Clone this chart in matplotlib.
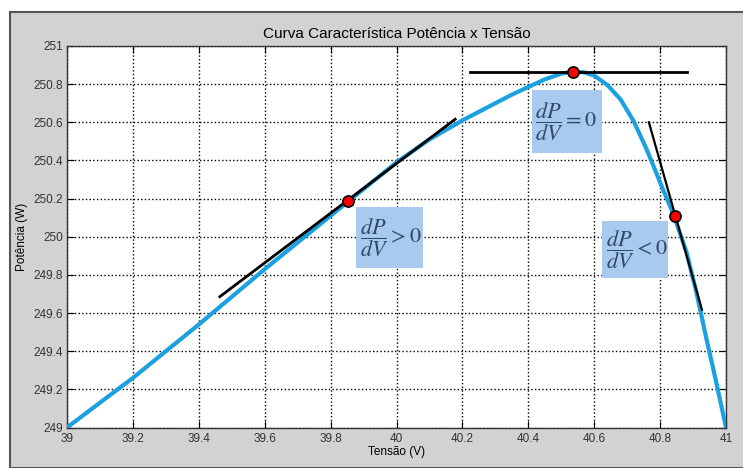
import matplotlib
matplotlib.use('Agg')
import matplotlib.pyplot as plt
from matplotlib.patches import Rectangle

# curve
tensao = [39.0, 39.2, 39.4, 39.6, 39.8, 39.9, 40.0, 40.05, 40.1, 40.15, 40.2,
          40.25, 40.3, 40.35, 40.4, 40.45, 40.5, 40.535, 40.57, 40.6, 40.64,
          40.68, 40.72, 40.76, 40.8, 40.84, 40.88, 40.91, 40.94, 40.97, 41.0]
potencia = [249.0, 249.26, 249.54, 249.83, 250.11, 250.25, 250.39, 250.45, 250.51,
            250.56, 250.61, 250.655, 250.70, 250.745, 250.785, 250.825, 250.855,
            250.866, 250.862, 250.845, 250.795, 250.72, 250.605, 250.455, 250.285,
            250.12, 249.92, 249.71, 249.47, 249.24, 249.0]

# tangent segments
tang_pos_x = [39.464, 40.178]
tang_pos_y = [249.686, 250.616]
tang_zero_x = [40.223, 40.881]
tang_zero_y = [250.866, 250.866]
tang_neg_x = [40.766, 40.927]
tang_neg_y = [250.600, 249.617]

# marked points
pts_x = [39.854, 40.535, 40.845]
pts_y = [250.189, 250.866, 250.111]

xticks = [39, 39.2, 39.4, 39.6, 39.8, 40, 40.2, 40.4, 40.6, 40.8, 41]
xlabels = ['39', '39.2', '39.4', '39.6', '39.8', '40', '40.2', '40.4', '40.6', '40.8', '41']
yticks = [249, 249.2, 249.4, 249.6, 249.8, 250, 250.2, 250.4, 250.6, 250.8, 251]
ylabels = ['249', '249.2', '249.4', '249.6', '249.8', '250', '250.2', '250.4', '250.6', '250.8', '251']

plt.rcParams['font.family'] = ['Liberation Sans', 'DejaVu Sans']
plt.rcParams['mathtext.fontset'] = 'stix'

fig = plt.figure(figsize=(7.43, 4.68), dpi=100)
fig.patch.set_facecolor('white')
# gray matlab-like frame
frame = Rectangle((10 / 743, 0), 1, 1 - 12 / 468, transform=fig.transFigure,
                  facecolor='#d2d2d2', edgecolor='#555555', linewidth=1.5, zorder=-10)
fig.patches.append(frame)

ax = fig.add_axes([67 / 743, 1 - 427.5 / 468, (726 - 67) / 743, (427.5 - 46) / 468])
ax.set_zorder(5)
ax.set_facecolor('white')

ax.plot(tensao, potencia, color='#1ba1e2', linewidth=3, zorder=3, solid_joinstyle='round')
ax.plot(tang_pos_x, tang_pos_y, color='black', linewidth=2, zorder=4)
ax.plot(tang_zero_x, tang_zero_y, color='black', linewidth=2, zorder=4)
ax.plot(tang_neg_x, tang_neg_y, color='black', linewidth=1.6, zorder=4)
ax.plot(pts_x, pts_y, 'o', markersize=8, markerfacecolor='red', markeredgecolor='black',
        markeredgewidth=1.2, linestyle='none', zorder=5)

# annotation boxes
boxes = [((39.878, 249.835), 0.202, 0.32, r'$\dfrac{dP}{dV} > 0$'),
         ((40.410, 250.438), 0.215, 0.332, r'$\dfrac{dP}{dV} = 0$'),
         ((40.625, 249.782), 0.199, 0.301, r'$\dfrac{dP}{dV} < 0$')]
for (bx, by), bw, bh, txt in boxes:
    ax.add_patch(Rectangle((bx, by), bw, bh, facecolor='#a9c9ee', edgecolor='none', zorder=6))
    ax.text(bx + 0.01, by + bh / 2, txt, fontsize=16, color='#2e4a6b',
            ha='left', va='center', zorder=7)

ax.set_xlim(39, 41)
ax.set_ylim(249, 251)
ax.set_xticks(xticks)
ax.set_xticklabels(xlabels)
ax.set_yticks(yticks)
ax.set_yticklabels(ylabels)
ax.grid(True, linestyle=':', color='black', linewidth=1.0)
ax.tick_params(direction='in', top=True, right=True, length=5, labelsize=8.5,
               labelcolor='#333333')
ax.tick_params(axis='x', pad=4)
ax.tick_params(axis='y', pad=3)
for s in ax.spines.values():
    s.set_color('#333333')
    s.set_linewidth(1.0)

ax.set_title('Curva Característica Potência x Tensão', fontsize=11, pad=6)
ax.set_xlabel('Tensão (V)', fontsize=8.5, labelpad=1)
ax.set_ylabel('Potência (W)', fontsize=8.5, labelpad=4)

fig.savefig('out.png', dpi=100, facecolor=fig.get_facecolor())
